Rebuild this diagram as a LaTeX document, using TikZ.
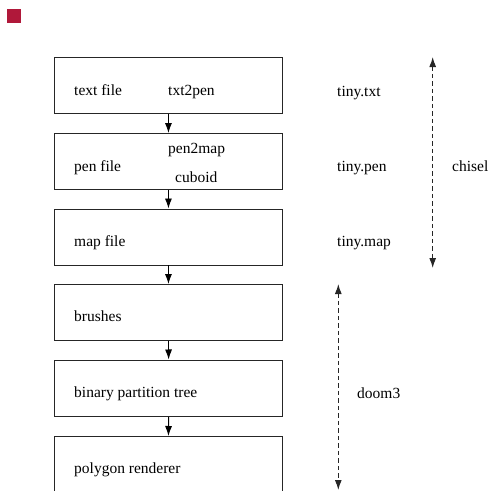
\documentclass[tikz,border=0pt]{standalone}
\usepackage{fontspec}
\setmainfont{Liberation Serif}
\usetikzlibrary{arrows.meta}
\definecolor{sqred}{HTML}{B0183A}
\begin{document}
\begin{tikzpicture}[x=1pt,y=-1pt,
  stagebox/.style={draw=black!85,line width=0.9pt,minimum width=228pt,minimum height=56pt,inner sep=0pt,anchor=north west},
  lbl/.style={anchor=base west,inner sep=0pt,font=\fontsize{15.5}{18}\selectfont},
  flow/.style={-{Latex[length=10pt,width=7pt]},line width=0.9pt},
  span/.style={{Latex[length=10pt,width=7pt]}-{Latex[length=10pt,width=7pt]},dash pattern=on 4.5pt off 3pt,line width=1.1pt,black!85}]
\clip (0,0) rectangle (488,491);
\fill[sqred] (7,9) rectangle (21,23);
% boxes
\node[stagebox] (b1) at (54,57) {};
\node[stagebox] (b2) at (54,133) {};
\node[stagebox] (b3) at (54,208.5) {};
\node[stagebox] (b4) at (54,284) {};
\node[stagebox,line width=1.3pt] (b5) at (54,359.5) {};
\node[stagebox] (b6) at (54,436) {};
% box texts
\node[lbl] (t1) at (74,95) {text file};
\node[lbl] (t2) at (74,171) {pen file};
\node[lbl] (t3) at (74,246) {map file};
\node[lbl] (t4) at (74,321) {brushes};
\node[lbl] (t5) at (74,397) {binary partition tree};
\node[lbl] (t6) at (74,473) {polygon renderer};
\node[lbl] (p1) at (168,95) {txt2pen};
\node[lbl] (p2) at (168,153) {pen2map};
\node[lbl] (p3) at (175,182) {cuboid};
% right labels
\node[lbl] (r1) at (337,96) {tiny.txt};
\node[lbl] (r2) at (337,171) {tiny.pen};
\node[lbl] (r3) at (337,246) {tiny.map};
\node[lbl] (r4) at (452,171) {chisel};
\node[lbl] (r5) at (357,398) {doom3};
% connectors
\draw[flow] (b1.south) -- (b2.north);
\draw[flow] (b2.south) -- (b3.north);
\draw[flow] (b3.south) -- (b4.north);
\draw[flow] (b4.south) -- (b5.north);
\draw[flow] (b5.south) -- (b6.north);
\coordinate (c1) at (432.7,57);
\coordinate (c2) at (432.7,268);
\coordinate (d1) at (338.3,284);
\coordinate (d2) at (338.3,490);
\draw[span] (c1) -- (c2);
\draw[span] (d1) -- (d2);
\end{tikzpicture}
\end{document}
